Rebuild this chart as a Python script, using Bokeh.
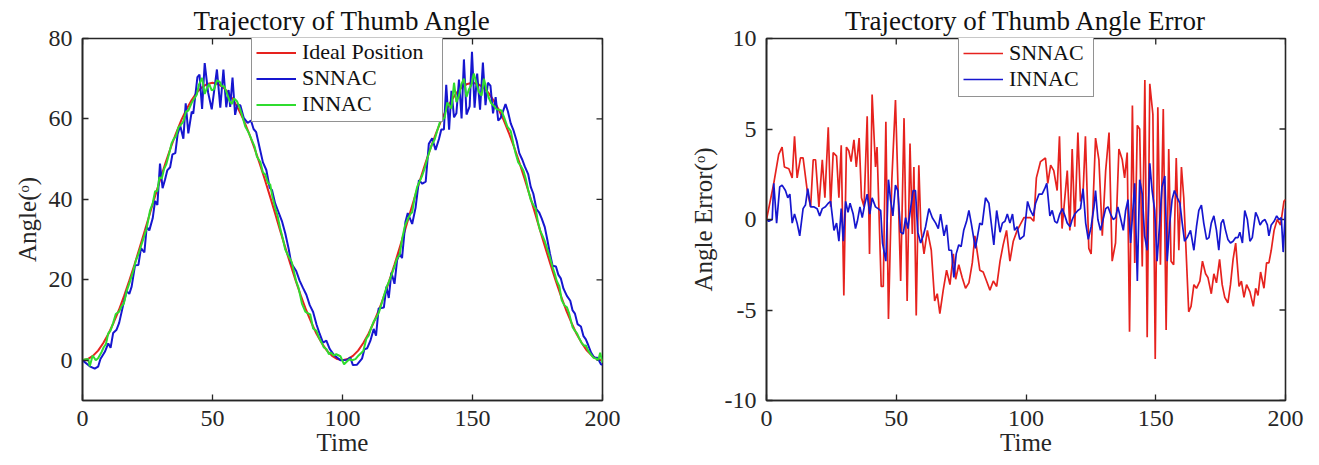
import math
from bokeh.plotting import figure
from bokeh.models import FixedTicker, Range1d, Legend, LegendItem
from bokeh.layouts import row
from bokeh.embed import file_html
from bokeh.resources import INLINE

# ---------------- data ----------------
ideal_t = [0, 2, 4, 6, 8, 10, 12, 14, 16, 18, 20, 22, 24, 26, 28, 30, 32, 34, 36, 38,
           40, 42, 44, 46, 48, 50, 52, 54, 56, 58, 60, 62, 64, 66, 68, 70, 72, 74, 76, 78,
           80, 82, 84, 86, 88, 90, 92, 94, 96, 98, 100, 102, 104, 106, 108, 110, 112, 114,
           116, 118, 120, 122, 124, 126, 128, 130, 132, 134, 136, 138, 140, 142, 144, 146,
           148, 150, 152, 154, 156, 158, 160, 162, 164, 166, 168, 170, 172, 174, 176, 178,
           180, 182, 184, 186, 188, 190, 192, 194, 196, 198, 200]
ideal_angle = [0.0, 0.3, 1.1, 2.4, 4.3, 6.6, 9.4, 12.5, 16.0, 19.8, 23.8, 28.0, 32.3, 36.7,
               41.0, 45.2, 49.2, 53.0, 56.5, 59.7, 62.4, 64.7, 66.6, 67.9, 68.7, 69.0, 68.7,
               67.9, 66.6, 64.7, 62.4, 59.7, 56.5, 53.0, 49.2, 45.2, 41.0, 36.7, 32.3, 28.0,
               23.8, 19.8, 16.0, 12.5, 9.4, 6.6, 4.3, 2.4, 1.1, 0.3, 0.0, 0.3, 1.1, 2.4, 4.3,
               6.6, 9.4, 12.5, 16.0, 19.8, 23.8, 28.0, 32.3, 36.7, 41.0, 45.2, 49.2, 53.0,
               56.5, 59.7, 62.4, 64.7, 66.6, 67.9, 68.7, 69.0, 68.7, 67.9, 66.6, 64.7, 62.4,
               59.7, 56.5, 53.0, 49.2, 45.2, 41.0, 36.7, 32.3, 28.0, 23.8, 19.8, 16.0, 12.5,
               9.4, 6.6, 4.3, 2.4, 1.1, 0.3, 0.0]

snnac_t = [0.0, 2.8, 4.7, 6.0, 6.9, 8.6, 9.9, 10.8, 11.8, 13.1,
           14.1, 15.7, 17.0, 18.0, 18.9, 20.2, 21.5, 22.5, 23.8, 24.7,
           25.7, 27.0, 27.9, 28.8, 29.8, 30.8, 31.7, 32.6, 33.7, 34.6,
           35.7, 36.6, 37.6, 38.8, 39.7, 40.7, 42.0, 42.6, 44.2, 45.0,
           46.0, 47.0, 48.3, 49.7, 50.8, 51.7, 53.0, 54.2, 55.3, 56.2,
           56.8, 57.7, 58.7, 59.5, 60.7, 62.0, 63.5, 64.8, 65.8, 66.8,
           68.1, 69.4, 70.7, 72.0, 72.9, 74.1, 75.4, 76.7, 78.0, 79.3,
           80.3, 82.2, 83.5, 84.8, 86.1, 87.4, 88.7, 90.0, 91.2, 92.5,
           93.8, 95.1, 96.6, 99.2, 101.8, 103.0, 104.0, 105.6, 107.5, 108.4,
           109.5, 110.7, 112.0, 112.9, 113.9, 115.9, 116.9, 117.8, 118.8, 120.0,
           121.0, 122.0, 122.9, 124.2, 125.1, 126.8, 128.1, 129.4, 130.7, 132.0,
           133.2, 134.5, 135.8, 137.1, 138.0, 139.0, 139.9, 141.0, 141.9, 142.9,
           143.8, 144.8, 145.8, 146.7, 147.7, 148.9, 149.8, 150.8, 151.8, 152.9,
           154.0, 155.0, 155.9, 156.9, 157.9, 158.9, 159.9, 160.8, 162.7, 163.6,
           164.7, 165.7, 167.0, 168.0, 169.2, 170.1, 171.4, 172.4, 173.4, 174.6,
           175.6, 176.6, 177.8, 178.8, 179.8, 180.8, 182.1, 183.0, 184.0, 185.0,
           186.3, 187.6, 188.5, 189.4, 190.4, 191.7, 192.7, 193.6, 194.5, 195.6,
           196.8, 198.1, 199.4, 200.0]
snnac_angle = [0.0, -1.5, -2.1, -1.6, 0.3, 2.1, 4.2, 3.1, 6.8, 7.6,
               9.3, 13.9, 17.2, 16.5, 18.3, 23.6, 23.7, 27.9, 26.8, 33.2,
               32.3, 35.3, 39.6, 38.6, 48.9, 42.8, 44.8, 47.2, 48.0, 51.2,
               51.5, 56.3, 58.3, 55.1, 63.9, 56.4, 61.8, 61.3, 70.4, 71.0,
               62.5, 73.9, 66.6, 62.4, 67.8, 72.3, 62.8, 72.3, 62.9, 67.2,
               63.0, 70.3, 61.0, 63.5, 63.4, 60.3, 59.0, 59.6, 57.5, 56.7,
               52.9, 49.2, 47.3, 42.9, 42.3, 39.0, 36.8, 34.6, 31.5, 27.7,
               24.1, 22.2, 19.8, 18.0, 16.3, 13.7, 12.0, 8.9, 6.6, 4.4,
               4.9, 2.8, 1.4, 0.0, 0.1, 0.7, -1.2, -1.1, 0.4, 2.7,
               3.0, 4.8, 7.8, 6.1, 12.9, 13.1, 18.3, 15.5, 21.8, 19.0,
               24.9, 26.5, 25.4, 34.4, 36.6, 33.9, 37.9, 44.8, 43.9, 44.4,
               53.8, 55.2, 52.3, 55.0, 57.4, 57.4, 68.5, 57.3, 67.0, 60.4,
               61.4, 69.8, 60.1, 74.8, 61.1, 63.1, 76.7, 62.8, 71.3, 62.3,
               74.0, 63.4, 69.0, 68.3, 61.4, 65.4, 59.6, 60.2, 63.7, 61.9,
               58.9, 57.3, 54.5, 51.5, 49.8, 48.2, 46.3, 43.1, 41.4, 37.6,
               36.8, 35.3, 33.1, 29.9, 26.5, 23.5, 23.3, 21.3, 20.3, 17.8,
               16.0, 14.8, 12.4, 11.6, 9.0, 8.4, 6.0, 5.2, 3.8, 1.9,
               0.7, 0.6, -1.0, -1.1]
snnac_error = [0.0, 2.0, 3.6, 4.0, 2.9, 2.8, 2.3, 4.6, 2.3, 3.4,
               3.4, 1.6, 0.7, 3.3, 3.3, 0.7, 3.3, 1.2, 5.1, 0.7,
               3.7, 3.5, 1.2, 4.1, -4.2, 4.0, 3.8, 3.2, 4.4, 2.9,
               4.5, 1.2, 0.7, 5.7, -1.9, 6.9, 2.9, 4.0, -3.7, -3.7,
               5.4, -5.5, 2.2, 6.6, 1.2, -3.4, 5.6, -4.5, 4.2, -0.8,
               2.9, -5.3, 3.0, -0.5, -1.9, -0.6, -1.7, -4.5, -4.1, -5.2,
               -3.9, -2.8, -3.6, -1.9, -3.3, -2.5, -3.2, -3.8, -3.5, -2.4,
               -0.9, -2.8, -2.9, -3.4, -3.9, -3.4, -3.7, -2.3, -1.4, -0.6,
               -2.3, -1.2, -0.6, 0.1, 0.1, -0.1, 2.3, 3.2, 3.4, 2.0,
               3.0, 2.7, 1.6, 4.6, -0.5, 2.7, -0.6, 3.9, -0.4, 4.8,
               1.0, 1.5, 4.6, -1.6, -1.9, 4.5, 3.3, -0.9, 2.7, 4.8,
               -2.3, -1.3, 3.9, 3.3, 2.3, 3.7, -6.2, 6.3, -2.4, 5.2,
               5.0, -2.6, 7.7, -6.5, 7.5, 5.8, -7.7, 6.2, -2.5, 6.1,
               -6.1, 3.9, -2.3, -2.5, 3.4, -1.7, 2.9, 1.2, -5.1, -4.8,
               -3.6, -3.8, -3.4, -2.3, -3.0, -3.2, -4.1, -3.0, -3.5, -2.2,
               -3.6, -4.3, -4.6, -3.6, -2.2, -1.3, -3.7, -3.4, -4.3, -3.6,
               -4.0, -4.8, -3.8, -4.2, -2.9, -3.8, -2.4, -2.4, -1.7, -0.6,
               0.0, -0.3, 1.0, 1.1]

innac_t = [0.0, 0.9, 2.2, 2.8, 3.9, 5.1, 6.0, 7.3, 8.2, 9.0,
           9.9, 10.8, 11.8, 12.8, 14.1, 15.0, 15.9, 17.0, 18.2, 19.5,
           20.5, 21.5, 22.7, 23.8, 24.7, 26.0, 27.0, 27.9, 28.8, 29.6,
           30.5, 31.4, 32.2, 33.4, 34.3, 35.0, 36.0, 36.9, 37.8, 38.8,
           39.8, 40.7, 42.0, 43.0, 44.0, 44.7, 46.0, 47.0, 47.8, 48.7,
           49.7, 50.6, 51.7, 52.7, 53.6, 54.5, 55.5, 56.5, 57.4, 58.3,
           59.4, 60.4, 61.3, 62.6, 63.9, 65.2, 66.2, 67.1, 68.4, 69.4,
           70.3, 71.3, 72.2, 73.1, 74.1, 75.0, 76.0, 77.1, 78.0, 78.9,
           80.5, 82.2, 83.1, 84.4, 85.7, 86.6, 87.6, 88.7, 90.0, 90.9,
           91.9, 92.8, 93.8, 94.8, 95.6, 96.6, 97.6, 99.2, 100.6, 101.7,
           102.8, 103.7, 105.0, 106.2, 107.2, 108.0, 109.2, 110.1, 111.1, 112.0,
           113.0, 114.0, 115.0, 115.9, 117.0, 117.8, 118.8, 120.0, 121.0, 122.0,
           123.0, 124.0, 125.1, 126.2, 126.8, 127.7, 128.7, 129.7, 130.7, 131.6,
           132.6, 133.6, 134.5, 135.4, 136.4, 137.5, 138.4, 139.3, 140.3, 141.9,
           142.9, 143.8, 144.8, 145.7, 146.7, 147.7, 148.6, 149.6, 150.5, 151.5,
           152.4, 153.5, 154.4, 155.4, 156.3, 157.2, 158.3, 159.3, 160.2, 161.1,
           162.1, 163.4, 164.7, 165.7, 166.6, 167.6, 168.5, 169.6, 170.5, 171.4,
           172.4, 173.4, 174.3, 175.2, 176.0, 176.9, 177.8, 178.8, 179.8, 180.8,
           181.7, 182.4, 183.4, 184.3, 185.3, 186.3, 187.2, 188.5, 189.4, 190.2,
           191.1, 192.1, 193.0, 193.6, 194.5, 195.6, 196.6, 197.5, 198.4, 199.1,
           200.0]
innac_angle = [0.0, 0.2, 0.3, -1.5, 1.2, 0.0, 0.5, 2.0, 3.3, 4.0,
               6.7, 7.4, 9.3, 11.5, 12.1, 13.4, 14.1, 17.2, 19.5, 22.2,
               24.7, 26.4, 28.8, 31.0, 32.9, 37.3, 39.0, 42.0, 42.1, 45.5,
               45.2, 47.6, 48.7, 51.6, 54.0, 54.9, 55.8, 57.9, 58.5, 59.4,
               61.8, 62.1, 64.0, 65.1, 66.1, 68.4, 70.2, 66.2, 67.6, 68.7,
               67.1, 67.4, 69.6, 69.3, 68.1, 68.1, 66.4, 64.6, 63.7, 65.1,
               64.4, 62.8, 61.1, 58.1, 56.6, 54.6, 53.1, 50.6, 49.3, 46.7,
               46.2, 44.1, 43.7, 40.5, 37.9, 36.0, 32.9, 30.1, 27.5, 26.3,
               24.4, 19.6, 18.0, 14.1, 12.1, 11.7, 11.4, 7.9, 7.3, 5.7,
               4.5, 3.2, 2.8, 1.5, 1.9, 1.2, 1.5, 1.0, -1.0, -0.3,
               0.3, 0.0, 0.3, 1.2, 1.8, 2.3, 5.4, 6.2, 8.2, 9.6,
               10.6, 11.9, 14.0, 16.0, 18.3, 19.4, 21.1, 23.3, 25.3, 26.3,
               30.4, 33.4, 35.1, 36.4, 36.8, 40.3, 43.1, 44.5, 46.0, 47.7,
               50.1, 52.2, 53.8, 54.8, 57.0, 59.3, 59.7, 60.4, 64.1, 62.6,
               69.0, 64.2, 65.8, 68.6, 70.0, 65.5, 67.3, 68.5, 71.3, 69.0,
               66.8, 65.8, 70.0, 67.2, 65.2, 63.9, 63.2, 62.4, 62.3, 62.1,
               60.5, 58.1, 57.0, 53.9, 51.4, 49.2, 48.4, 47.1, 45.1, 42.4,
               39.9, 38.6, 37.7, 34.3, 32.3, 31.0, 29.6, 27.6, 25.5, 23.2,
               21.4, 19.7, 18.4, 15.0, 13.7, 13.2, 11.6, 8.2, 7.3, 6.7,
               5.4, 4.2, 3.6, 3.7, 2.4, 1.4, 0.6, 0.4, 0.1, 1.9,
               -0.6]
innac_error = [0.0, -0.1, 0.0, 2.0, -0.2, 1.8, 1.9, 1.6, 1.2, 1.4,
               -0.2, 0.3, -0.2, -0.9, 0.6, 0.8, 1.7, 0.7, 0.7, 0.6,
               0.2, 0.6, 0.7, 0.9, 1.0, -0.6, -0.2, -1.2, 0.6, -1.2,
               1.0, 0.4, 0.9, 0.3, -0.5, -0.1, 0.7, 0.1, 0.8, 1.4,
               0.3, 1.2, 0.7, 0.6, 0.5, -1.3, -2.3, 2.2, 1.1, 0.2,
               1.9, 1.6, -0.7, -0.8, 0.1, -0.5, 0.6, 1.6, 1.6, -0.7,
               -1.3, -0.9, -0.4, 0.6, 0.1, -0.2, -0.5, 0.3, -0.9, -0.3,
               -1.7, -1.7, -3.2, -1.9, -1.4, -1.5, -0.6, -0.1, 0.5, -0.2,
               -1.6, -0.2, -0.3, 1.2, 0.9, -0.2, -1.4, 0.5, -0.7, -0.2,
               -0.1, 0.3, -0.2, 0.3, -0.6, -0.4, -1.1, -0.9, 1.0, 0.5,
               0.2, 0.9, 1.4, 1.4, 1.7, 2.0, 0.2, 0.5, -0.1, -0.2,
               0.3, 0.6, 0.2, -0.2, -0.4, 0.0, 0.3, 0.5, 0.6, 1.7,
               -0.2, -1.1, -0.4, 0.7, 1.6, 0.0, -0.6, 0.0, 0.6, 0.7,
               0.3, 0.0, 0.1, 0.7, 0.1, -0.6, 0.5, 1.1, -1.3, 2.0,
               -3.4, 2.2, 1.4, -0.9, -1.7, 3.1, 1.6, 0.5, -2.3, -0.2,
               1.8, 2.4, -2.3, -0.2, 1.1, 1.6, 1.2, 0.9, -0.2, -1.2,
               -1.0, -0.6, -1.7, -0.4, 0.5, 0.8, -0.2, -1.1, -1.0, -0.2,
               0.2, -0.6, -1.7, -0.2, 0.0, -0.6, -1.1, -1.3, -1.2, -1.0,
               -1.0, -0.7, -1.3, 0.5, 0.0, -1.2, -1.0, 0.4, 0.1, -0.3,
               -0.1, 0.0, -0.3, -0.9, -0.3, -0.1, 0.2, 0.0, 0.1, -1.8,
               0.6]

time_range = (0, 200)
angle_range = (-10, 80)
error_range = (-10, 10)
x_ticks = [0, 50, 100, 150, 200]
angle_ticks = [0, 20, 40, 60, 80]
error_ticks = [-10, -5, 0, 5, 10]

# ---------------- style ----------------
FONT = "Liberation Serif"
AX = "#262626"
RED = "#e6221e"
BLUE = "#1616cf"
GREEN = "#2fdc2f"


def style_axis(ax, ticks):
    ax.ticker = FixedTicker(ticks=ticks)
    ax.major_label_overrides = {t: str(t) for t in ticks}  # plain hyphen for negatives
    ax.major_tick_in = 6
    ax.major_tick_out = 0
    ax.minor_tick_line_color = None
    ax.axis_line_color = AX
    ax.axis_line_width = 1.6
    ax.major_tick_line_color = AX
    ax.major_tick_line_width = 1.3
    ax.major_label_text_font = FONT
    ax.major_label_text_color = AX
    ax.major_label_text_font_size = "24px"
    ax.axis_label_text_font = FONT
    ax.axis_label_text_font_style = "normal"
    ax.axis_label_text_font_size = "25px"
    ax.axis_label_text_color = AX


def make_fig(title, ylabel, yr, yticks, width, border_left, border_right):
    p = figure(width=width, height=465, x_range=Range1d(*time_range), y_range=Range1d(*yr),
               output_backend="svg", toolbar_location=None,
               min_border_left=border_left, min_border_right=border_right,
               min_border_top=38, min_border_bottom=65)
    p.title.text = title
    p.title.text_font = FONT
    p.title.text_font_size = "27px"
    p.title.text_font_style = "normal"
    p.title.text_color = "#111111"
    p.title.align = "center"
    p.title.standoff = 6
    p.grid.grid_line_color = None
    p.outline_line_color = AX
    p.outline_line_width = 1.6
    p.outline_line_alpha = 1.0
    p.background_fill_color = "white"
    p.border_fill_color = "white"

    p.xaxis.axis_label = "Time"
    p.yaxis.axis_label = ylabel
    style_axis(p.xaxis[0], x_ticks)
    style_axis(p.yaxis[0], yticks)
    p.xaxis[0].major_label_standoff = 10
    p.xaxis[0].axis_label_standoff = 0
    p.yaxis[0].major_label_standoff = 10
    p.yaxis[0].axis_label_standoff = 5

    # inward ticks on the top and right edges of the box (clipped to the frame)
    p.scatter(x_ticks, [yr[1]] * len(x_ticks), marker="dash", size=12, angle=math.pi / 2,
              line_color=AX, line_width=1.3)
    p.scatter([time_range[1]] * len(yticks), yticks, marker="dash", size=12,
              line_color=AX, line_width=1.3)
    return p


def style_legend(leg, label_width, row_h):
    leg.border_line_color = AX
    leg.border_line_width = 1.2
    leg.background_fill_color = "white"
    leg.background_fill_alpha = 1.0
    leg.label_text_font = FONT
    leg.label_text_font_size = "22px"
    leg.label_text_color = "#111111"
    leg.glyph_width = 40
    leg.glyph_height = row_h
    leg.label_height = row_h
    leg.label_width = label_width
    leg.label_standoff = 6
    leg.padding = 4
    leg.spacing = 0
    leg.margin = 0


# ---------------- left: angle trajectories ----------------
p1 = make_fig("Trajectory of Thumb Angle", "Angle(\u1d52)", angle_range, angle_ticks, 655, 82, 53)
r_ideal = p1.line(ideal_t, ideal_angle, line_color=RED, line_width=2)
r_snnac = p1.line(snnac_t, snnac_angle, line_color=BLUE, line_width=2)
r_innac = p1.line(innac_t, innac_angle, line_color=GREEN, line_width=2)
leg1 = Legend(items=[LegendItem(label="Ideal Position", renderers=[r_ideal]),
                     LegendItem(label="SNNAC", renderers=[r_snnac]),
                     LegendItem(label="INNAC", renderers=[r_innac])],
              location=(169, 278))
style_legend(leg1, 136, 23)
p1.add_layout(leg1)

# ---------------- right: angle errors ----------------
p2 = make_fig("Trajectory of Thumb Angle Error", "Angle Error(\u1d52)", error_range, error_ticks,
              655, 111, 25)
e_snnac = p2.line(snnac_t, snnac_error, line_color=RED, line_width=1.7)
e_innac = p2.line(innac_t, innac_error, line_color=BLUE, line_width=1.7)
leg2 = Legend(items=[LegendItem(label="SNNAC", renderers=[e_snnac]),
                     LegendItem(label="INNAC", renderers=[e_innac])],
              location=(192, 303))
style_legend(leg2, 80, 22)
p2.add_layout(leg2)

layout = row(p1, p2)
open("out.html", "w").write(file_html(layout, INLINE))
